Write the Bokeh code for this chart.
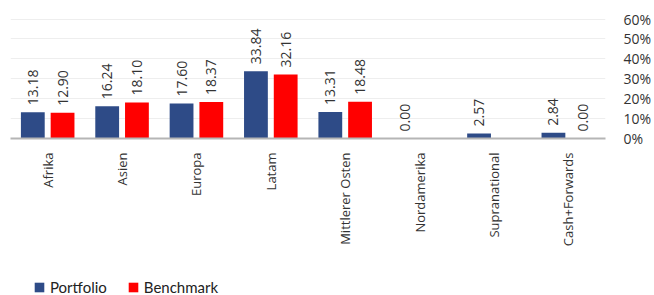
import math
from bokeh.plotting import figure
from bokeh.layouts import column
from bokeh.models import (ColumnDataSource, FactorRange, Range1d, FixedTicker,
                          PrintfTickFormatter, Legend, LegendItem)
from bokeh.transform import dodge
from bokeh.core.properties import value
from bokeh.embed import file_html
from bokeh.resources import INLINE

categories = ["Afrika", "Asien", "Europa", "Latam", "Mittlerer Osten",
              "Nordamerika", "Supranational", "Cash+Forwards"]
portfolio = [13.18, 16.24, 17.60, 33.84, 13.31, 0.00, 2.57, 2.84]
benchmark = [12.90, 18.10, 18.37, 32.16, 18.48, None, None, 0.00]
series_names = ["Portfolio", "Benchmark"]
y_ticks = [0, 10, 20, 30, 40, 50, 60]

PORT_COLOR = "#2E4B87"
BENCH_COLOR = "#FF0000"
FONT = "Open Sans"

def fmt(v):
    return "" if v is None else "%.2f" % v

src = ColumnDataSource(dict(
    cat=categories,
    port=portfolio,
    bench=[0 if b is None else b for b in benchmark],
    port_lbl=[fmt(v) for v in portfolio],
    bench_lbl=[fmt(v) for v in benchmark],
))

W = 654
LEG_H = 20
P_H = 295 - LEG_H

p = figure(width=W, height=P_H, x_range=FactorRange(*categories, range_padding=0),
           y_range=Range1d(0, 63.3), output_backend="svg", toolbar_location=None,
           y_axis_location="right", min_border_left=10, min_border_top=12,
           min_border_bottom=P_H - 138, min_border_right=0)
p.outline_line_color = None
p.background_fill_color = "white"

p.vbar(x=dodge("cat", -0.2, range=p.x_range), top="port", width=0.32,
       source=src, color=PORT_COLOR, line_color=None)
p.vbar(x=dodge("cat", 0.2, range=p.x_range), top="bench", width=0.32,
       source=src, color=BENCH_COLOR, line_color=None)

common = dict(angle=math.pi / 2, text_align="left", text_baseline="middle",
              text_font=value(FONT), text_font_size="14px", text_color="#333333",
              y_offset=-7)
p.text(x=dodge("cat", -0.2, range=p.x_range), y="port", text="port_lbl", source=src, **common)
p.text(x=dodge("cat", 0.2, range=p.x_range), y="bench", text="bench_lbl", source=src, **common)

# x axis
xa = p.xaxis[0]
xa.major_label_orientation = math.pi / 2
xa.major_label_text_font = FONT
xa.major_label_text_font_size = "13px"
xa.major_label_text_color = "#333333"
xa.major_tick_line_color = None
xa.minor_tick_line_color = None
xa.axis_line_color = "#b5b5b5"
xa.axis_line_width = 2
xa.major_label_standoff = 8
p.xgrid.grid_line_color = None

# y axis
ya = p.yaxis[0]
ya.ticker = FixedTicker(ticks=y_ticks)
ya.formatter = PrintfTickFormatter(format="%d%%")
ya.major_label_text_font = FONT
ya.major_label_text_font_size = "14px"
ya.major_label_text_color = "#333333"
ya.axis_line_color = None
ya.major_tick_line_color = None
ya.minor_tick_line_color = None
ya.major_label_standoff = 12
p.ygrid.ticker = FixedTicker(ticks=y_ticks)
p.ygrid.grid_line_color = "#eeeeee"

# legend strip
lf = figure(width=W, height=LEG_H, x_range=Range1d(0, 1), y_range=Range1d(0, 1),
            output_backend="svg", toolbar_location=None, min_border=0)
lf.axis.visible = False
lf.grid.visible = False
lf.outline_line_color = None
dummy = ColumnDataSource(dict(x=[-10], top=[-10]))
lr1 = lf.vbar(x="x", top="top", width=0.1, source=dummy, color=PORT_COLOR, line_color=None)
lr2 = lf.vbar(x="x", top="top", width=0.1, source=dummy, color=BENCH_COLOR, line_color=None)
legend = Legend(items=[LegendItem(label=series_names[0], renderers=[lr1]),
                       LegendItem(label=series_names[1], renderers=[lr2])],
                orientation="horizontal", location=(23, -1),
                glyph_width=12, glyph_height=12, label_text_font="Lato",
                label_text_font_size="15px", label_text_color="#222222",
                label_standoff=5, spacing=20, padding=0, margin=0,
                border_line_color=None, background_fill_alpha=0)
lf.add_layout(legend, "center")

layout = column(p, lf, spacing=0)
open("out.html", "w").write(file_html(layout, INLINE))
